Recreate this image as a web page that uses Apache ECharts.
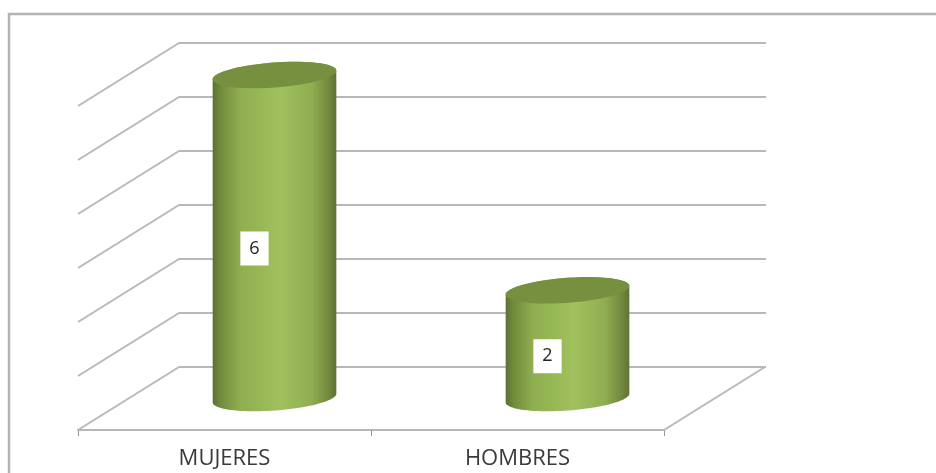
<!DOCTYPE html>
<html>
<head>
<meta charset="utf-8">
<style>html,body{margin:0;padding:0;background:#fff}#c{width:936px;height:473px}</style>
<script src="https://cdn.jsdelivr.net/npm/echarts@6/dist/echarts.min.js"></script>
</head>
<body>
<div id="c"></div>
<script>
const categories = ['MUJERES', 'HOMBRES'];
const values = [6, 2];
const gridLevels = [0, 1, 2, 3, 4, 5, 6];

const GRAY = '#b8b8b8';
const depth = [101, -63];
const tilt = -4.2 * Math.PI / 180;
const RX = 62, RY = 12.5;
const bodyGradient = () => new echarts.graphic.LinearGradient(0, 0, 1, 0, [
  { offset: 0, color: '#5c7033' },
  { offset: 0.06, color: '#708a3b' },
  { offset: 0.22, color: '#8fae50' },
  { offset: 0.55, color: '#a0c15d' },
  { offset: 0.8, color: '#90ae51' },
  { offset: 0.94, color: '#71883d' },
  { offset: 1, color: '#5f7333' }
]);

function ellipsePt(cx, cy, a) {
  const x = RX * Math.cos(a), y = RY * Math.sin(a);
  return [cx + x * Math.cos(tilt) - y * Math.sin(tilt), cy + x * Math.sin(tilt) + y * Math.cos(tilt)];
}
function arc(cx, cy, from, to) {
  const pts = [];
  for (let i = 0; i <= 48; i++) pts.push(ellipsePt(cx, cy, from + (to - from) * i / 48));
  return pts;
}

const chart = echarts.init(document.getElementById('c'), null, { renderer: 'canvas' });
const axisBase = {
  min: 0, max: 6, interval: 1, axisLabel: { show: false },
  axisLine: { show: false }, axisTick: { show: false }
};
chart.setOption({
  animation: false,
  backgroundColor: '#fff',
  graphic: [{
    type: 'polyline', silent: true, z: 0,
    shape: { points: [[936, 14], [9, 14], [9, 473]] },
    style: { fill: null, stroke: '#b4b4b4', lineWidth: 2.5 }
  }],
  grid: [
    { left: 78, top: 106, width: 586, height: 324 },
    { left: 178.5, top: 43, width: 587.5, height: 324 },
    { left: 128, top: 75, width: 586, height: 323 }
  ],
  xAxis: [
    {
      gridIndex: 0, type: 'category', data: categories,
      axisLine: { lineStyle: { color: GRAY, width: 2 } },
      axisTick: { show: true, length: 6, lineStyle: { color: '#999', width: 1 } },
      axisLabel: { color: '#3a3a3a', fontFamily: 'Open Sans', fontSize: 22, margin: 18 }
    },
    { gridIndex: 1, type: 'category', data: categories, show: false },
    { gridIndex: 2, type: 'category', data: categories, show: false }
  ],
  yAxis: [
    { gridIndex: 0, type: 'value', ...axisBase, splitLine: { show: false } },
    { gridIndex: 1, type: 'value', ...axisBase, splitLine: { show: true, lineStyle: { color: GRAY, width: 2 } } },
    { gridIndex: 2, type: 'value', ...axisBase, splitLine: { show: false } }
  ],
  series: [
    {
      type: 'custom', xAxisIndex: 0, yAxisIndex: 0, z: 2, silent: true,
      coordinateSystem: 'cartesian2d',
      data: gridLevels.map(v => [0, v]),
      encode: { x: 0, y: 1 },
      renderItem(params, api) {
        const p = api.coord([0, api.value(1)]);
        const x0 = params.coordSys.x;
        const line = (x, y) => ({
          type: 'line',
          shape: { x1: x, y1: y, x2: x + depth[0], y2: y + depth[1] },
          style: { stroke: GRAY, lineWidth: 2 }
        });
        const children = [line(x0, p[1])];
        if (api.value(1) === 0) children.push(line(x0 + params.coordSys.width, p[1]));
        return { type: 'group', children };
      }
    },
    {
      type: 'custom', xAxisIndex: 2, yAxisIndex: 2, z: 5, silent: true,
      coordinateSystem: 'cartesian2d',
      data: categories.map((c, i) => [i, values[i]]),
      encode: { x: 0, y: 1 },
      clip: false,
      renderItem(params, api) {
        const i = api.value(0), v = api.value(1);
        const top = api.coord([i, v]);
        const base = api.coord([i, 0]);
        const bodyPts = arc(top[0], top[1], Math.PI, 2 * Math.PI)
          .concat(arc(base[0], base[1], 0, Math.PI));
        return {
          type: 'group',
          children: [
            {
              type: 'polygon', shape: { points: bodyPts },
              style: { fill: bodyGradient() }
            },
            {
              type: 'polygon',
              shape: { points: arc(top[0], top[1], 0, 2 * Math.PI) },
              style: { fill: '#76903f' }
            },
            {
              type: 'text',
              x: top[0] - 20,
              y: (top[1] + base[1]) / 2 + 12,
              style: {
                text: String(v), align: 'center', verticalAlign: 'middle',
                fill: '#222', font: '18px "Open Sans"',
                backgroundColor: '#fff', padding: [9, 9, 7, 9]
              }
            }
          ]
        };
      }
    }
  ]
});
</script>
</body>
</html>
